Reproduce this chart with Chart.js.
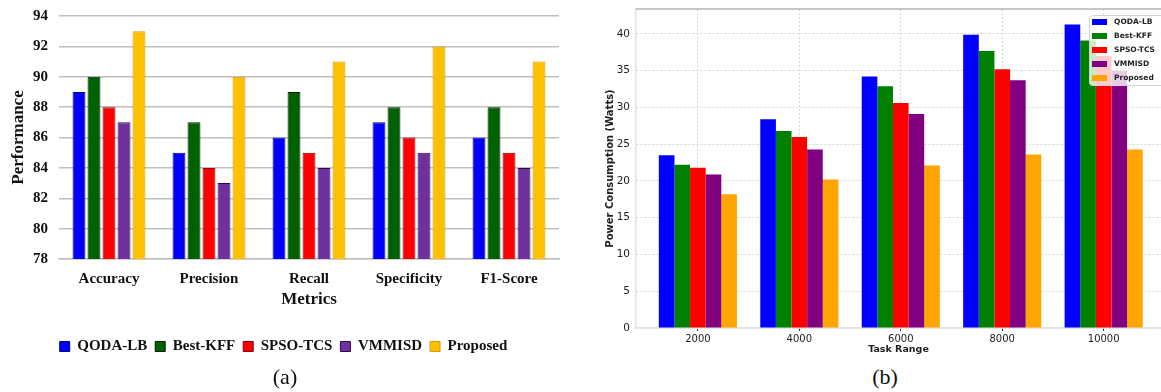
<!DOCTYPE html>
<html>
<head>
<meta charset="utf-8">
<script src="https://cdn.jsdelivr.net/npm/chart.js@4.4.1/dist/chart.umd.min.js"></script>
<style>
  html, body { margin: 0; padding: 0; background: #fff; }
  body { width: 1161px; height: 392px; position: relative; overflow: hidden; }
  canvas { position: absolute; top: 0; }
  #perfChart { left: 0; }
  #powerChart { left: 575px; filter: blur(0.6px); }
  .caption {
    position: absolute; top: 364px; transform: translateX(-50%);
    font-family: "Liberation Serif", "Times New Roman", serif; font-size: 22px; color: #111;
  }
</style>
</head>
<body>
<canvas id="perfChart" width="570" height="365"></canvas>
<canvas id="powerChart" width="586" height="360"></canvas>
<div class="caption" style="left:285px">(a)</div>
<div class="caption" style="left:885px">(b)</div>
<script>
// ---- (a) performance metrics ----
const metrics = ['Accuracy', 'Precision', 'Recall', 'Specificity', 'F1-Score'];
const methods = ['QODA-LB', 'Best-KFF', 'SPSO-TCS', 'VMMISD', 'Proposed'];
const qodaPerf = [89, 85, 86, 87, 86];
const bestKffPerf = [90, 87, 89, 88, 88];
const spsoPerf = [88, 84, 85, 86, 85];
const vmmisdPerf = [87, 83, 84, 85, 84];
const proposedPerf = [93, 90, 91, 92, 91];

// ---- (b) power consumption ----
const taskRange = [2000, 4000, 6000, 8000, 10000];
const qodaPower = [23.5, 28.4, 34.2, 39.9, 41.3];
const bestKffPower = [22.2, 26.8, 32.9, 37.7, 39.1];
const spsoPower = [21.8, 26.0, 30.6, 35.2, 37.0];
const vmmisdPower = [20.9, 24.3, 29.1, 33.7, 35.0];
const proposedPower = [18.2, 20.2, 22.1, 23.6, 24.3];

const serif = '"Liberation Serif", "Times New Roman", serif';
const sans = '"DejaVu Sans", sans-serif';

const perfColors = ['#0000ff', '#006100', '#ff0000', '#7030a0', '#ffc000'];
const perfBorders = ['#00008a', '#002000', '#8a0000', '#2e0a4a', '#d89a00'];
const perfSeries = [qodaPerf, bestKffPerf, spsoPerf, vmmisdPerf, proposedPerf];

new Chart(document.getElementById('perfChart'), {
    type: 'bar',
    data: {
        labels: metrics,
        datasets: perfSeries.map((vals, i) => ({
            label: methods[i],
            data: vals,
            backgroundColor: perfColors[i],
            borderColor: perfBorders[i],
            borderWidth: 1,
            categoryPercentage: 0.75,
            barPercentage: 0.86
        }))
    },
    options: {
        responsive: false,
        animation: false,
        layout: { padding: { top: 16, right: 11, bottom: 1, left: 8 } },
        plugins: {
            tooltip: { enabled: false },
            legend: {
                position: 'bottom',
                labels: {
                    boxWidth: 10,
                    boxHeight: 10,
                    padding: 8,
                    color: '#111',
                    font: { family: serif, size: 15, weight: 'bold' }
                }
            }
        },
        scales: {
            x: {
                grid: { display: false, drawTicks: false },
                border: { color: '#c0c0c0', width: 1.5 },
                ticks: { color: '#111', padding: 11, font: { family: serif, size: 15, weight: 'bold' } },
                title: {
                    display: true, text: 'Metrics', color: '#111',
                    padding: { top: 0, bottom: 21 },
                    font: { family: serif, size: 17, weight: 'bold' }
                },
                afterFit: axis => { axis.height = 72; }
            },
            y: {
                min: 78,
                max: 94,
                ticks: { stepSize: 2, color: '#111', padding: 11, font: { family: serif, size: 15, weight: 'bold' } },
                grid: { color: '#c0c0c0', lineWidth: 1.5, drawTicks: false },
                border: { display: false },
                title: {
                    display: true, text: 'Performance', color: '#111',
                    padding: { top: 0, bottom: 0 },
                    font: { family: serif, size: 17, weight: 'bold' }
                },
                // fixed width; the layout padding already leaves room for the top label
                afterFit: axis => { axis.width = 51; axis.paddingTop = 0; axis.paddingBottom = 0; }
            }
        }
    }
});

// top spine of the power plot
const topFrame = {
    id: 'topFrame',
    beforeDatasetsDraw(chart) {
        const { ctx, chartArea: a } = chart;
        ctx.save();
        ctx.strokeStyle = '#b4b4b4';
        ctx.lineWidth = 1.5;
        ctx.beginPath();
        ctx.moveTo(a.left, a.top);
        ctx.lineTo(a.right, a.top);
        ctx.stroke();
        ctx.restore();
    }
};

// boxed legend in the upper right corner, drawn over the bars
const boxLegend = {
    id: 'boxLegend',
    afterDatasetsDraw(chart) {
        const { ctx, chartArea: a } = chart;
        const x0 = a.right - 72, y0 = a.top + 6;
        ctx.save();
        ctx.fillStyle = 'rgba(255,255,255,0.8)';
        ctx.strokeStyle = '#d4d4d4';
        ctx.lineWidth = 1;
        ctx.beginPath();
        ctx.roundRect(x0 + 0.5, y0 + 0.5, 80, 70, 3);
        ctx.fill();
        ctx.stroke();
        ctx.font = 'bold 7.5px ' + sans;
        ctx.textBaseline = 'middle';
        chart.data.datasets.forEach((ds, i) => {
            const cy = y0 + 7 + i * 14;
            ctx.fillStyle = ds.backgroundColor;
            ctx.fillRect(x0 + 3, cy - 3, 15, 6);
            ctx.fillStyle = '#222';
            ctx.fillText(ds.label, x0 + 25, cy);
        });
        ctx.restore();
    }
};

const powerColors = ['blue', 'green', 'red', 'purple', 'orange'];
const powerSeries = [qodaPower, bestKffPower, spsoPower, vmmisdPower, proposedPower];

new Chart(document.getElementById('powerChart'), {
    type: 'bar',
    data: {
        datasets: powerSeries.map((vals, i) => ({
            label: methods[i],
            data: taskRange.map((t, k) => ({ x: t, y: vals[k] })),
            backgroundColor: powerColors[i],
            borderWidth: 0,
            categoryPercentage: 0.77,
            barPercentage: 1
        }))
    },
    options: {
        responsive: false,
        animation: false,
        layout: { padding: { top: 9, right: 0, bottom: 0, left: 0 } },
        plugins: { legend: { display: false }, tooltip: { enabled: false } },
        scales: {
            x: {
                type: 'linear',
                min: 780,
                max: 11130,
                offset: false,
                afterBuildTicks: axis => { axis.ticks = taskRange.map(v => ({ value: v })); },
                ticks: { color: '#222', padding: 2, callback: v => String(v), font: { family: sans, size: 10 } },
                grid: { offset: false, color: '#d6d6d6', tickColor: '#333', tickLength: 3 },
                border: { color: '#e2e2e2', width: 1.5, dash: [2, 2] },
                title: {
                    display: true, text: 'Task Range', color: '#222',
                    padding: { top: 0, bottom: 5 },
                    font: { family: sans, size: 9.5, weight: 'bold' }
                },
                afterFit: axis => { axis.height = 32; axis.paddingLeft = 0; axis.paddingRight = 0; }
            },
            y: {
                min: 0,
                max: 43.4,
                afterBuildTicks: axis => { axis.ticks = axis.ticks.filter(t => t.value % 5 === 0); },
                ticks: { stepSize: 5, color: '#222', padding: 6, font: { family: sans, size: 10.5 } },
                grid: { color: '#d6d6d6', drawTicks: false },
                border: { color: '#e2e2e2', width: 1.5, dash: [2, 2] },
                title: {
                    display: true, text: 'Power Consumption (Watts)', color: '#222',
                    padding: { top: 29, bottom: 0 },
                    font: { family: sans, size: 10, weight: 'bold' }
                },
                afterFit: axis => { axis.width = 61; axis.paddingTop = 0; axis.paddingBottom = 0; }
            }
        }
    },
    plugins: [topFrame, boxLegend]
});
</script>
</body>
</html>
